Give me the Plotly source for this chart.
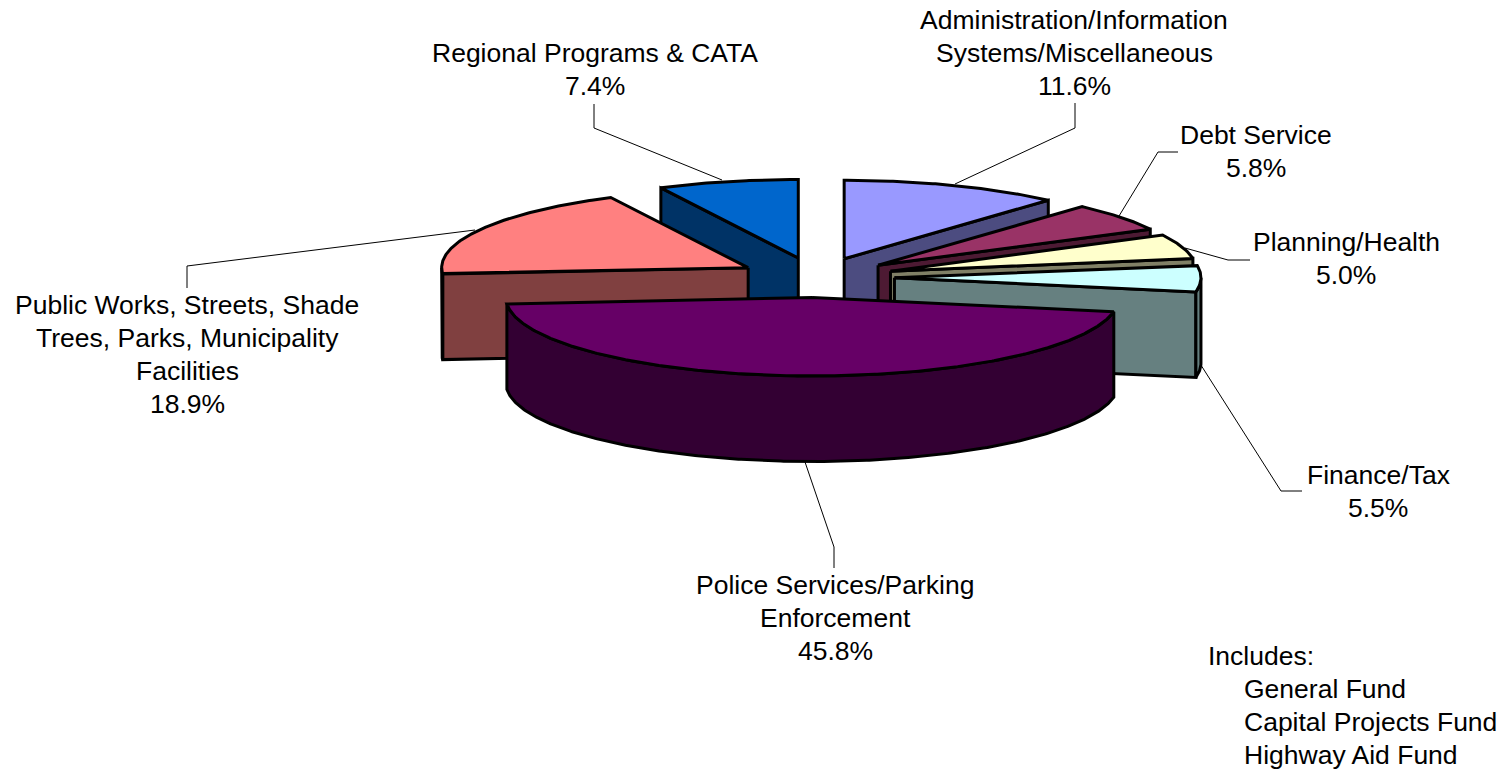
import numpy as np
import plotly.graph_objects as go

# Budget shares, clockwise from twelve o'clock
categories = [
    ["Administration/Information", "Systems/Miscellaneous"],
    ["Debt Service"],
    ["Planning/Health"],
    ["Finance/Tax"],
    ["Police Services/Parking", "Enforcement"],
    ["Public Works, Streets, Shade", "Trees, Parks, Municipality", "Facilities"],
    ["Regional Programs & CATA"],
]
shares = [11.6, 5.8, 5.0, 5.5, 45.8, 18.9, 7.4]
top_colors = ["#9999FF", "#993366", "#FFFFCC", "#CCFFFF", "#660066", "#FF8080", "#0066CC"]
side_colors = ["#4C4C80", "#4D1A33", "#808066", "#668080", "#330033", "#804040", "#003366"]
fund_heading = "Includes:"
fund_names = ["General Fund", "Capital Projects Fund", "Highway Aid Fund"]

# Projection of the tilted pie onto the page
CX, CY = 816.3, 277.5
RX, RY = 306.5, 78.5
EXPLODE = 0.255
DEPTH = 85.5
OUTLINE = 3.0
LINE_STEP = 33
FONT = dict(family="Liberation Sans, Arial, sans-serif", size=26.5, color="black")

# Back-to-front painting order of the slices
PAINT_ORDER = [6, 0, 1, 2, 3, 5, 4]

# Label block anchors (centre x, first line y) and leader polylines, in page units
LABEL_POS = [(1074, 20), (1256, 135), (1346, 242), (1378, 475), (835, 585), (187, 305), (595, 53)]
LEADERS = [
    ([955, 1075, 1075], [184, 128, 103]),
    ([1119, 1158, 1178], [216, 152, 152]),
    ([1185, 1228, 1250], [248, 260, 260]),
    ([1199, 1281, 1302], [362, 491, 491]),
    ([805, 834, 834], [462, 547, 568]),
    ([475, 187, 187], [230, 266, 288]),
    ([722, 594, 594], [180, 128, 104]),
]

edges = np.concatenate([[0.0], np.cumsum(shares)]) / sum(shares) * 360.0


def rim(apex, a, b, drop=0.0):
    """Points along a slice's rim between angles a and b (degrees clockwise from north)."""
    t = np.radians(np.linspace(a, b, max(int(abs(b - a) * 2), 2)))
    return apex[0] + RX * np.sin(t), apex[1] - RY * np.cos(t) + drop


def face(xs, ys, color):
    return go.Scatter(
        x=list(xs), y=list(ys), mode="lines", fill="toself", fillcolor=color,
        line=dict(color="black", width=OUTLINE), hoverinfo="skip", showlegend=False,
    )


def cut_face(apex, angle, color):
    x, y = rim(apex, angle, angle)
    ex, ey = x[0], y[0]
    return face(
        [apex[0], ex, ex, apex[0], apex[0]],
        [apex[1], ey, ey + DEPTH, apex[1] + DEPTH, apex[1]],
        color,
    )


fig = go.Figure()

for xs, ys in LEADERS:
    fig.add_trace(go.Scatter(x=xs, y=ys, mode="lines", line=dict(color="black", width=1),
                             hoverinfo="skip", showlegend=False))

for i in PAINT_ORDER:
    a, b = edges[i], edges[i + 1]
    mid = np.radians((a + b) / 2)
    apex = (CX + EXPLODE * RX * np.sin(mid), CY - EXPLODE * RY * np.cos(mid))

    # Only the cut faces turned toward the viewer are drawn
    if a > 180:
        fig.add_trace(cut_face(apex, a, side_colors[i]))
    if b < 180:
        fig.add_trace(cut_face(apex, b, side_colors[i]))

    # Outer wall on the front half of the ellipse
    lo, hi = max(a, 90.0), min(b, 270.0)
    if lo < hi:
        tx, ty = rim(apex, lo, hi)
        bx, by = rim(apex, hi, lo, DEPTH)
        fig.add_trace(face(np.r_[tx, bx, tx[0]], np.r_[ty, by, ty[0]], side_colors[i]))

    # Top surface
    rx, ry = rim(apex, a, b)
    fig.add_trace(face(np.r_[apex[0], rx, apex[0]], np.r_[apex[1], ry, apex[1]], top_colors[i]))

for name_lines, share, (lx, ly) in zip(categories, shares, LABEL_POS):
    for k, line in enumerate(name_lines + [f"{share:.1f}%"]):
        fig.add_annotation(x=lx, y=ly + LINE_STEP * k, text=line, showarrow=False,
                           xanchor="center", yanchor="middle", font=FONT)

fig.add_annotation(x=1206, y=656, text=fund_heading, showarrow=False,
                   xanchor="left", yanchor="middle", font=FONT)
for k, fund in enumerate(fund_names):
    fig.add_annotation(x=1242, y=689 + LINE_STEP * k, text=fund, showarrow=False,
                       xanchor="left", yanchor="middle", font=FONT)

fig.update_layout(
    width=1508, height=773, margin=dict(l=0, r=0, t=0, b=0),
    paper_bgcolor="white", plot_bgcolor="white", showlegend=False,
    xaxis=dict(range=[0, 1508], visible=False, fixedrange=True),
    yaxis=dict(range=[773, 0], visible=False, fixedrange=True),
)
fig.write_html("out.html", config=dict(displayModeBar=False))
